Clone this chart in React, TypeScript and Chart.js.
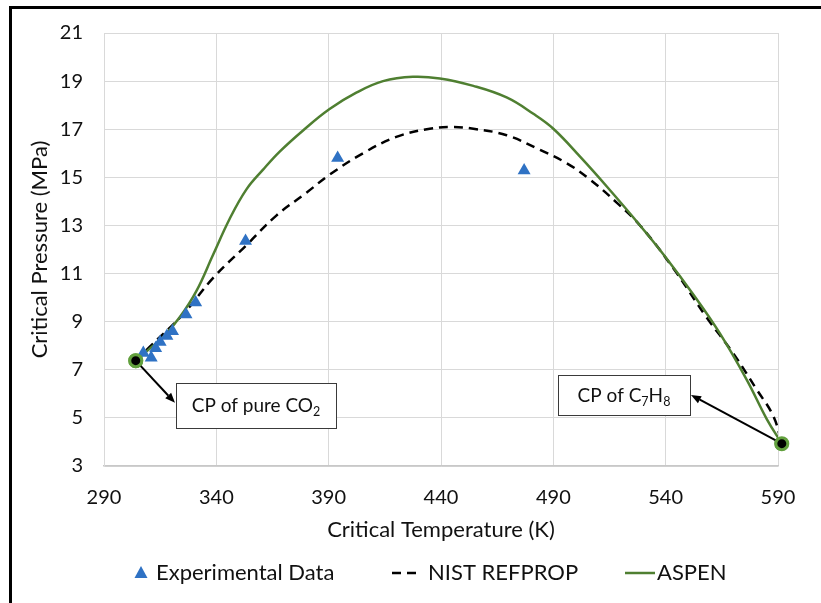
import { useEffect, useRef } from "react";
import { Chart, registerables } from "chart.js";

Chart.register(...registerables);

// ASPEN critical locus (K, MPa)
const aspenT = [304.13, 310, 316.3, 323.7, 331.1, 338.5, 345.9, 353.4, 360.8, 368.2, 378.6, 390.4, 402.3, 414.2, 427.5, 439.5, 454.4, 469.2, 481.1, 490, 501.9, 513.7, 528.6, 540.4, 552.3, 564.2, 576.1, 585, 591.7];
const aspenP = [7.38, 7.85, 8.36, 9.18, 10.27, 11.77, 13.27, 14.5, 15.32, 16.07, 16.95, 17.84, 18.52, 19.0, 19.18, 19.11, 18.8, 18.32, 17.64, 17.02, 15.86, 14.63, 13.0, 11.63, 10.13, 8.5, 6.58, 4.95, 3.93];

// NIST REFPROP critical locus (K, MPa)
const nistT = [304.13, 310.3, 325.2, 338.5, 353.4, 366.7, 380.1, 390.4, 405.3, 420.1, 435, 445, 454.4, 469.2, 484.1, 495.9, 506.3, 518.2, 528.6, 543.4, 558.2, 570.1, 580.5, 587.9, 591.7];
const nistP = [7.38, 7.95, 9.31, 10.81, 12.18, 13.41, 14.36, 15.11, 16.0, 16.68, 17.02, 17.09, 17.02, 16.75, 16.14, 15.59, 14.91, 13.95, 13.0, 11.22, 9.18, 7.68, 6.18, 5.08, 3.93];

// Measured critical points
const expT = [307.5, 311, 313, 315, 318, 320.5, 326.5, 330.8, 353, 394, 477];
const expP = [7.7, 7.5, 7.9, 8.15, 8.4, 8.6, 9.3, 9.8, 12.35, 15.8, 15.28];

// Pure-component critical points: CO2 and toluene
const cpT = [304.13, 591.7];
const cpP = [7.38, 3.93];

// Axis ranges and tick steps
const xRange = [290, 590];
const xStep = 50;
const yRange = [3, 21];
const yStep = 2;

const xTitle = "Critical Temperature (K)";
const yTitle = "Critical Pressure (MPa)";
const legendLabels = ["Experimental Data", "NIST REFPROP", "ASPEN"];

type Part = { t: string; sub?: boolean };
const noteParts: Part[][] = [
  [{ t: "CP of pure CO" }, { t: "2", sub: true }],
  [{ t: "CP of C" }, { t: "7", sub: true }, { t: "H" }, { t: "8", sub: true }],
];
// Box anchor (top-left corner, in data units) for each callout
const noteAnchorT = [321.9, 492.1];
const noteAnchorP = [6.46, 6.79];

const FONT = "Lato";
const TEXT = "#111111";
const BLUE = "#2F72C4";
const GREEN = "#4F7F31";
const CP_RING = "#62A03E";

const pts = (xs: number[], ys: number[]) => xs.map((x, i) => ({ x, y: ys[i] }));

function drawRich(ctx: CanvasRenderingContext2D, parts: Part[], cx: number, cy: number) {
  const big = `19px ${FONT}`;
  const small = `12.5px ${FONT}`;
  let total = 0;
  const widths = parts.map((p) => {
    ctx.font = p.sub ? small : big;
    const w = ctx.measureText(p.t).width;
    total += w;
    return w;
  });
  let x = cx - total / 2;
  const base = cy + 6.5;
  ctx.fillStyle = TEXT;
  ctx.textAlign = "left";
  ctx.textBaseline = "alphabetic";
  parts.forEach((p, i) => {
    ctx.font = p.sub ? small : big;
    ctx.fillText(p.t, x, p.sub ? base + 4 : base);
    x += widths[i];
  });
}

function drawArrow(ctx: CanvasRenderingContext2D, fx: number, fy: number, tx: number, ty: number) {
  const ang = Math.atan2(ty - fy, tx - fx);
  const len = 10;
  const half = 4;
  const bx = tx - Math.cos(ang) * len;
  const by = ty - Math.sin(ang) * len;
  ctx.strokeStyle = "#000";
  ctx.lineWidth = 2;
  ctx.setLineDash([]);
  ctx.beginPath();
  ctx.moveTo(fx, fy);
  ctx.lineTo(bx, by);
  ctx.stroke();
  ctx.fillStyle = "#000";
  ctx.beginPath();
  ctx.moveTo(tx, ty);
  ctx.lineTo(bx + Math.sin(ang) * half, by - Math.cos(ang) * half);
  ctx.lineTo(bx - Math.sin(ang) * half, by + Math.cos(ang) * half);
  ctx.closePath();
  ctx.fill();
}

const calloutPlugin = {
  id: "cpCallouts",
  afterDatasetsDraw(chart: any) {
    const { ctx, scales } = chart;
    const xs = scales.x;
    const ys = scales.y;
    const boxes = [
      { w: 160, h: 45, side: "left", tip: 0.44 },
      { w: 132, h: 40, side: "right", tip: 0.5 },
    ];
    ctx.save();
    boxes.forEach((b, i) => {
      const left = Math.round(xs.getPixelForValue(noteAnchorT[i]));
      const top = Math.round(ys.getPixelForValue(noteAnchorP[i]));
      const fx = xs.getPixelForValue(cpT[i]);
      const fy = ys.getPixelForValue(cpP[i]);
      const tx = b.side === "left" ? left - 1 : left + b.w + 1;
      const ty = top + b.h * b.tip;
      drawArrow(ctx, fx, fy, tx, ty);
      ctx.fillStyle = "#fff";
      ctx.fillRect(left, top, b.w, b.h);
      ctx.strokeStyle = "#3a3a3a";
      ctx.lineWidth = 1;
      ctx.strokeRect(left + 0.5, top + 0.5, b.w, b.h);
      drawRich(ctx, noteParts[i], left + b.w / 2, top + b.h / 2);
    });
    // redraw the critical-point markers above the arrows
    cpT.forEach((t, i) => {
      const px = xs.getPixelForValue(t);
      const py = ys.getPixelForValue(cpP[i]);
      ctx.beginPath();
      ctx.arc(px, py, 6, 0, Math.PI * 2);
      ctx.fillStyle = "#000";
      ctx.fill();
      ctx.lineWidth = 3;
      ctx.strokeStyle = CP_RING;
      ctx.stroke();
    });
    ctx.restore();
  },
  afterDraw(chart: any) {
    const { ctx } = chart;
    ctx.save();
    // outer frame (left and top edges)
    ctx.strokeStyle = "#000";
    ctx.lineWidth = 3;
    ctx.beginPath();
    ctx.moveTo(10.5, chart.height);
    ctx.lineTo(10.5, 7.5);
    ctx.lineTo(chart.width, 7.5);
    ctx.stroke();

    // legend row
    const ly = 573;
    ctx.font = `22px ${FONT}`;
    ctx.textBaseline = "middle";
    ctx.textAlign = "left";
    ctx.fillStyle = BLUE;
    ctx.beginPath();
    ctx.moveTo(141, ly - 7);
    ctx.lineTo(147.5, ly + 5);
    ctx.lineTo(134.5, ly + 5);
    ctx.closePath();
    ctx.fill();
    ctx.fillStyle = TEXT;
    ctx.fillText(legendLabels[0], 156, ly);

    ctx.strokeStyle = "#000";
    ctx.lineWidth = 2.5;
    ctx.setLineDash([9, 6]);
    ctx.beginPath();
    ctx.moveTo(392, ly);
    ctx.lineTo(416, ly);
    ctx.stroke();
    ctx.setLineDash([]);
    ctx.fillText(legendLabels[1], 428, ly);

    ctx.strokeStyle = GREEN;
    ctx.lineWidth = 2.5;
    ctx.beginPath();
    ctx.moveTo(625, ly);
    ctx.lineTo(655, ly);
    ctx.stroke();
    ctx.fillText(legendLabels[2], 657, ly);
    ctx.restore();
  },
};

export default function App() {
  const ref = useRef<HTMLCanvasElement | null>(null);

  useEffect(() => {
    if (!ref.current) return;
    Chart.defaults.font.family = FONT;
    const chart = new Chart(ref.current, {
      type: "scatter",
      data: {
        datasets: [
          {
            label: "CP",
            data: pts(cpT, cpP),
            pointStyle: "circle",
            pointRadius: 6,
            backgroundColor: "#000",
            borderColor: CP_RING,
            borderWidth: 3,
            showLine: false,
          },
          {
            label: legendLabels[0],
            data: pts(expT, expP),
            pointStyle: "triangle",
            pointRadius: 7.5,
            backgroundColor: BLUE,
            borderColor: BLUE,
            borderWidth: 0,
            showLine: false,
          },
          {
            label: legendLabels[2],
            data: pts(aspenT, aspenP),
            showLine: true,
            borderColor: GREEN,
            borderWidth: 2.5,
            pointRadius: 0,
            tension: 0.4,
          },
          {
            label: legendLabels[1],
            data: pts(nistT, nistP),
            showLine: true,
            borderColor: "#000",
            borderWidth: 2.5,
            borderDash: [9, 6],
            pointRadius: 0,
            tension: 0.4,
          },
        ],
      } as any,
      options: {
        animation: false,
        responsive: false,
        devicePixelRatio: 1,
        layout: { padding: { top: 29, right: 43, left: 0, bottom: 0 } },
        plugins: {
          legend: { display: false },
          tooltip: { enabled: false },
        },
        scales: {
          x: {
            type: "linear",
            min: xRange[0],
            max: xRange[1],
            ticks: {
              stepSize: xStep,
              padding: 20,
              color: TEXT,
              font: { family: FONT, size: 20 },
            },
            grid: { color: "#d9d9d9", lineWidth: 1, drawTicks: false },
            border: { color: "#c8c8c8", width: 1.5 },
            title: {
              display: true,
              text: xTitle,
              color: TEXT,
              font: { family: FONT, size: 22 },
              padding: { top: 0, bottom: 60 },
            },
            afterFit: (s: any) => {
              s.height = 137;
            },
          },
          y: {
            type: "linear",
            min: yRange[0],
            max: yRange[1],
            ticks: {
              stepSize: yStep,
              padding: 21,
              color: TEXT,
              font: { family: FONT, size: 20 },
            },
            grid: { color: "#d9d9d9", lineWidth: 1, drawTicks: false },
            border: { color: "#d9d9d9" },
            title: {
              display: true,
              text: yTitle,
              color: TEXT,
              font: { family: FONT, size: 22 },
              padding: { top: 27, bottom: 0 },
            },
            afterFit: (s: any) => {
              s.width = 104;
            },
          },
        },
      } as any,
      plugins: [calloutPlugin],
    });
    return () => chart.destroy();
  }, []);

  return (
    <div style={{ position: "absolute", left: 0, top: 0, width: 821, height: 603, background: "#fff" }}>
      <canvas ref={ref} width={821} height={603} style={{ display: "block" }} />
    </div>
  );
}
